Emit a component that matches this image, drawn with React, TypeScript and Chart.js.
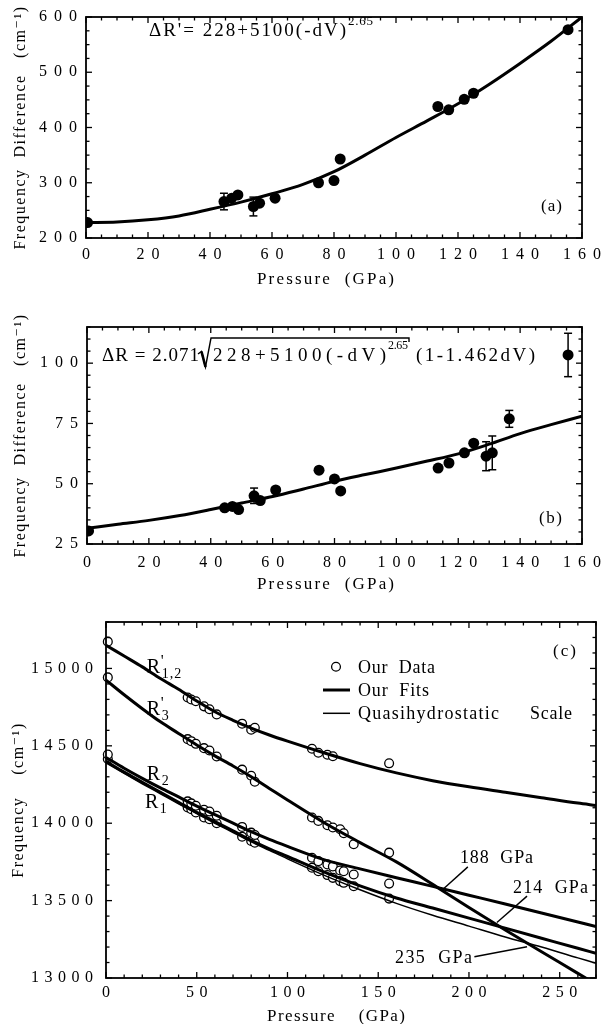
import React, { useEffect, useRef } from "react";
import { Chart, registerables } from "chart.js";

Chart.register(...registerables);

const SERIF = '"Liberation Serif", "DejaVu Serif", serif';

// ---------------- Panel (a) : ΔR' vs pressure ----------------
const pressureA = [0.5, 44.5, 47, 49, 54, 56, 61, 75, 80, 82, 113.5, 117, 122, 125, 155.5];
const deltaRPrimeA = [228, 266, 272, 278, 257, 263, 272, 300, 304, 343, 438, 432, 451, 462, 577];
const errorA = [0, 15, 0, 0, 17, 0, 0, 0, 0, 0, 0, 0, 0, 0, 0];
const fitPressureA = [0, 10, 20, 30, 40, 50, 60, 70, 80, 90, 100, 110, 120, 130, 140, 150, 160];
const fitA = [228, 229, 233, 240, 252, 265, 280, 297, 320, 350, 382, 412, 443, 478, 516, 556, 600];
const xTicksA = [0, 20, 40, 60, 80, 100, 120, 140, 160];
const yTicksA = [200, 300, 400, 500, 600];

// ---------------- Panel (b) : ΔR vs pressure ----------------
const pressureB = [0.5, 44.5, 47, 49, 54, 56, 61, 75, 80, 82, 113.5, 117, 122, 125, 129, 131, 136.5, 155.5];
const deltaRB = [30.4, 40, 40.6, 39.3, 45, 43, 47.4, 55.6, 52, 47, 56.5, 58.6, 62.8, 66.8, 61.4, 62.8, 76.9, 103.4];
const errorB = [0, 0, 0, 0, 3.2, 0, 0, 0, 0, 0, 0, 0, 0, 0, 6, 7, 3.5, 9];
const fitPressureB = [0, 10, 20, 30, 40, 50, 60, 70, 80, 90, 100, 110, 120, 130, 140, 150, 160];
const fitB = [31.5, 33.2, 34.8, 36.8, 39.3, 42, 44.7, 47.8, 51, 53.8, 56.5, 59.4, 62.4, 66.4, 70.8, 74.5, 78];
const xTicksB = [0, 20, 40, 60, 80, 100, 120, 140, 160];
const yTicksB = [25, 50, 75, 100];

// ---------------- Panel (c) : frequencies vs pressure ----------------
const pressureC = [1, 45, 47, 49.5, 54, 57, 61, 75, 80, 82, 113.5, 117, 122, 125, 129, 131, 136.5, 156];
const r12C = [15173, 14812, 14799, 14788, 14755, 14736, 14703, 14643, 14604, 14617, 14481, 14455, 14442, 14433, null, null, null, 14387];
const r3C = [14942, 14543, 14530, 14513, 14485, 14470, 14431, 14346, 14307, 14268, 14037, 14015, 13987, 13972, 13961, 13935, 13864, 13810];
const r2C = [14444, 14141, 14128, 14113, 14087, 14076, 14048, 13976, 13939, 13924, 13777, 13755, 13734, 13721, 13695, 13690, 13669, 13610];
const r1C = [14415, 14102, 14090, 14069, 14037, 14026, 14000, 13913, 13885, 13874, 13712, 13690, 13665, 13647, 13626, 13615, 13593, 13513];
const fitPressureC = [0, 10, 20, 30, 40, 50, 60, 70, 80, 90, 100, 120, 140, 160, 180, 200, 220, 240, 260, 270];
const fitR12 = [15150, 15080, 15010, 14935, 14865, 14790, 14720, 14665, 14615, 14570, 14530, 14455, 14385, 14325, 14275, 14235, 14200, 14165, 14130, 14115];
const fitR3 = [14925, 14830, 14740, 14655, 14580, 14505, 14435, 14370, 14300, 14225, 14150, 14005, 13875, 13750, 13605, 13455, 13310, 13170, 13030, 12960];
const fitR2 = [14425, 14355, 14290, 14228, 14170, 14110, 14055, 14000, 13945, 13895, 13850, 13765, 13705, 13648, 13592, 13535, 13478, 13420, 13362, 13333];
const fitR1 = [14400, 14330, 14265, 14200, 14135, 14070, 14010, 13950, 13890, 13835, 13785, 13685, 13595, 13517, 13452, 13387, 13322, 13257, 13192, 13160];
const quasiHydro = [14390, 14322, 14255, 14190, 14125, 14062, 14000, 13940, 13880, 13825, 13770, 13665, 13570, 13482, 13405, 13335, 13265, 13200, 13130, 13095];
const xTicksC = [0, 50, 100, 150, 200, 250];
const yTicksC = [13000, 13500, 14000, 14500, 15000];
const crossingPressures = [188, 214, 235];
const legendLabels = ["Our  Data", "Our  Fits", "Quasihydrostatic", "Scale"];

// ---------------- helpers ----------------
function spaced(ctx: CanvasRenderingContext2D, text: string, x: number, cy: number, width: number, size: number) {
  ctx.save();
  ctx.font = `${size}px ${SERIF}`;
  ctx.letterSpacing = "0px";
  const w0 = ctx.measureText(text).width;
  const n = Array.from(text).length;
  const s = n > 1 ? (width - w0) / (n - 1) : 0;
  ctx.letterSpacing = `${s}px`;
  ctx.textAlign = "left";
  ctx.textBaseline = "alphabetic";
  ctx.fillStyle = "#000";
  ctx.fillText(text, x, cy + size * 0.33);
  ctx.restore();
}

function line(ctx: CanvasRenderingContext2D, x1: number, y1: number, x2: number, y2: number, w: number) {
  ctx.beginPath();
  ctx.lineWidth = w;
  ctx.moveTo(x1, y1);
  ctx.lineTo(x2, y2);
  ctx.stroke();
}

type Deco = {
  tickSpacing: number;
  titleSpacing: number;
  xMinor: number;
  xMajor: number;
  yMinor: number;
  yMajor: number;
  errX?: number[];
  errY?: number[];
  err?: number[];
  extra: (ctx: CanvasRenderingContext2D, chart: any) => void;
};

function decoPlugin(d: Deco) {
  return {
    id: "deco",
    beforeDraw(chart: any) {
      chart.ctx.letterSpacing = `${d.titleSpacing}px`;
    },
    beforeDatasetsDraw(chart: any) {
      if (!d.err || !d.errX || !d.errY) return;
      const ctx = chart.ctx as CanvasRenderingContext2D;
      const xs = chart.scales.x, ys = chart.scales.y;
      ctx.save();
      ctx.strokeStyle = "#000";
      d.err.forEach((e, i) => {
        if (!e) return;
        const px = xs.getPixelForValue(d.errX![i]);
        const p1 = ys.getPixelForValue(d.errY![i] + e);
        const p2 = ys.getPixelForValue(d.errY![i] - e);
        line(ctx, px, p1, px, p2, 1.5);
        line(ctx, px - 4, p1, px + 4, p1, 1.5);
        line(ctx, px - 4, p2, px + 4, p2, 1.5);
      });
      ctx.restore();
    },
    afterDatasetsDraw(chart: any) {
      chart.ctx.letterSpacing = `${d.tickSpacing}px`;
    },
    afterDraw(chart: any) {
      const ctx = chart.ctx as CanvasRenderingContext2D;
      ctx.letterSpacing = "0px";
      const { left, right, top, bottom } = chart.chartArea;
      const xs = chart.scales.x, ys = chart.scales.y;
      ctx.save();
      ctx.strokeStyle = "#000";
      ctx.lineWidth = 1.8;
      ctx.strokeRect(left, top, right - left, bottom - top);
      const nx = Math.round((xs.max - xs.min) / d.xMinor);
      for (let i = 0; i <= nx; i++) {
        const v = xs.min + i * d.xMinor;
        const major = Math.abs(v / d.xMajor - Math.round(v / d.xMajor)) < 1e-6;
        const len = major ? 6 : 3.5;
        const px = xs.getPixelForValue(v);
        line(ctx, px, bottom, px, bottom - len, 1.3);
        line(ctx, px, top, px, top + len, 1.3);
      }
      const ny = Math.round((ys.max - ys.min) / d.yMinor);
      for (let i = 0; i <= ny; i++) {
        const v = ys.min + i * d.yMinor;
        const major = Math.abs(v / d.yMajor - Math.round(v / d.yMajor)) < 1e-6;
        const len = major ? 6 : 3.5;
        const py = ys.getPixelForValue(v);
        line(ctx, left, py, left + len, py, 1.3);
        line(ctx, right, py, right - len, py, 1.3);
      }
      d.extra(ctx, chart);
      ctx.restore();
    },
  };
}

function pts(xs: number[], ys: (number | null)[]) {
  return xs.map((x, i) => ({ x, y: ys[i] })).filter((p) => p.y !== null);
}

function baseScales(opts: {
  xMin: number; xMax: number; yMin: number; yMax: number;
  xTicks: number[]; yTicks: number[];
  yWidth: number; xHeight: number;
  xPad: number; yPad: number; spacing: number;
  yTitle: string; yTitlePad: number;
}) {
  const tickFont = { family: SERIF, size: 16 };
  return {
    x: {
      type: "linear",
      min: opts.xMin,
      max: opts.xMax,
      afterBuildTicks: (s: any) => { s.ticks = opts.xTicks.map((v) => ({ value: v })); },
      afterFit: (s: any) => { s.height = opts.xHeight; },
      grid: { display: false, drawTicks: false },
      border: { display: false },
      ticks: {
        font: tickFont, color: "#000", padding: opts.xPad, z: 1, maxRotation: 0,
        autoSkip: false, labelOffset: opts.spacing / 2,
        callback: (v: any) => String(v),
      },
    },
    y: {
      type: "linear",
      min: opts.yMin,
      max: opts.yMax,
      afterBuildTicks: (s: any) => { s.ticks = opts.yTicks.map((v) => ({ value: v })); },
      afterFit: (s: any) => { s.width = opts.yWidth; },
      grid: { display: false, drawTicks: false },
      border: { display: false },
      ticks: {
        font: tickFont, color: "#000", padding: opts.yPad, z: 1, autoSkip: false,
        callback: (v: any) => String(v),
      },
      title: {
        display: true, text: opts.yTitle, color: "#000",
        font: { family: SERIF, size: 16 }, padding: { top: opts.yTitlePad, bottom: 0 },
      },
    },
  };
}

function configA() {
  return {
    type: "scatter",
    data: {
      datasets: [
        {
          label: "Fit ΔR'",
          data: pts(fitPressureA, fitA),
          showLine: true, borderColor: "#000", borderWidth: 3, pointRadius: 0,
          cubicInterpolationMode: "monotone", clip: 0,
        },
        {
          label: "Data ΔR'",
          data: pts(pressureA, deltaRPrimeA),
          pointRadius: 5.5, backgroundColor: "#000", borderColor: "#000", borderWidth: 0, clip: 0,
        },
      ],
    },
    options: {
      responsive: false, animation: false, events: [],
      layout: { padding: { top: 17, right: 21, left: 0, bottom: 0 } },
      plugins: { legend: { display: false }, tooltip: { enabled: false } },
      scales: baseScales({
        xMin: 0, xMax: 160, yMin: 200, yMax: 600, xTicks: xTicksA, yTicks: yTicksA,
        yWidth: 86, xHeight: 62, xPad: 7, yPad: 2, spacing: 7,
        yTitle: "Frequency  Difference   (cm⁻¹)", yTitlePad: 11,
      }),
    },
    plugins: [
      decoPlugin({
        tickSpacing: 7, titleSpacing: 1.5, xMinor: 5, xMajor: 20, yMinor: 25, yMajor: 100,
        errX: pressureA, errY: deltaRPrimeA, err: errorA,
        extra: (ctx) => {
          spaced(ctx, "ΔR'= 228+5100(-dV)", 149, 30, 197, 19);
          spaced(ctx, "2.65", 348, 21, 25, 13);
          spaced(ctx, "(a)", 541, 205, 21, 17);
          spaced(ctx, "Pressure  (GPa)", 257, 278, 137, 17);
        },
      }),
    ],
  };
}

function configB() {
  return {
    type: "scatter",
    data: {
      datasets: [
        {
          label: "Fit ΔR",
          data: pts(fitPressureB, fitB),
          showLine: true, borderColor: "#000", borderWidth: 3, pointRadius: 0,
          cubicInterpolationMode: "monotone", clip: 0,
        },
        {
          label: "Data ΔR",
          data: pts(pressureB, deltaRB),
          pointRadius: 5.5, backgroundColor: "#000", borderColor: "#000", borderWidth: 0, clip: 0,
        },
      ],
    },
    options: {
      responsive: false, animation: false, events: [],
      layout: { padding: { top: 27, right: 20, left: 0, bottom: 0 } },
      plugins: { legend: { display: false }, tooltip: { enabled: false } },
      scales: baseScales({
        xMin: 0, xMax: 160, yMin: 25, yMax: 115, xTicks: xTicksB, yTicks: yTicksB,
        yWidth: 87, xHeight: 56, xPad: 9, yPad: 2, spacing: 7,
        yTitle: "Frequency  Difference   (cm⁻¹)", yTitlePad: 11,
      }),
    },
    plugins: [
      decoPlugin({
        tickSpacing: 7, titleSpacing: 1.5, xMinor: 5, xMajor: 20, yMinor: 5, yMajor: 25,
        errX: pressureB, errY: deltaRB, err: errorB,
        extra: (ctx) => {
          spaced(ctx, "ΔR = 2.071", 102, 55, 97, 19);
          ctx.strokeStyle = "#000";
          ctx.lineJoin = "miter";
          ctx.beginPath();
          ctx.lineWidth = 1.4;
          ctx.moveTo(198, 54);
          ctx.lineTo(201.5, 51.5);
          ctx.lineTo(205.5, 67);
          ctx.lineTo(211, 38);
          ctx.lineTo(409, 38);
          ctx.lineTo(409, 42);
          ctx.stroke();
          line(ctx, 201.5, 51.5, 205.5, 67, 2.6);
          spaced(ctx, "228+5100(-dV)", 213, 55, 173, 19);
          spaced(ctx, "2.65", 388, 45, 20, 12);
          spaced(ctx, "(1-1.462dV)", 416, 55, 119, 19);
          spaced(ctx, "(b)", 539, 217, 23, 17);
          spaced(ctx, "Pressure  (GPa)", 257, 283, 137, 17);
        },
      }),
    ],
  };
}

function rLabel(ctx: CanvasRenderingContext2D, x: number, cy: number, prime: boolean, sub: string) {
  ctx.save();
  ctx.fillStyle = "#000";
  ctx.textAlign = "left";
  ctx.textBaseline = "alphabetic";
  ctx.font = `20px ${SERIF}`;
  ctx.letterSpacing = "0px";
  const base = cy + 6.5;
  ctx.fillText("R", x, base);
  const w = ctx.measureText("R").width;
  if (prime) {
    ctx.font = `16px ${SERIF}`;
    ctx.fillText("'", x + w + 0.5, base - 7);
  }
  ctx.font = `14px ${SERIF}`;
  ctx.letterSpacing = "1px";
  ctx.fillText(sub, x + w + 1.5, base + 5);
  ctx.restore();
}

function configC() {
  const circle = {
    pointRadius: 4.4, backgroundColor: "#fff", borderColor: "#000", borderWidth: 1.3, clip: false,
  };
  const fitStyle = (w: number) => ({
    showLine: true, borderColor: "#000", borderWidth: w, pointRadius: 0,
    cubicInterpolationMode: "monotone", clip: 0,
  });
  return {
    type: "scatter",
    data: {
      datasets: [
        { label: "Fit R'1,2", data: pts(fitPressureC, fitR12), ...fitStyle(3) },
        { label: "Fit R'3", data: pts(fitPressureC, fitR3), ...fitStyle(3) },
        { label: "Fit R2", data: pts(fitPressureC, fitR2), ...fitStyle(3) },
        { label: "Fit R1", data: pts(fitPressureC, fitR1), ...fitStyle(3) },
        { label: "Quasihydrostatic Scale", data: pts(fitPressureC, quasiHydro), ...fitStyle(1.5) },
        { label: "R'1,2", data: pts(pressureC, r12C), ...circle },
        { label: "R'3", data: pts(pressureC, r3C), ...circle },
        { label: "R2", data: pts(pressureC, r2C), ...circle },
        { label: "R1", data: pts(pressureC, r1C), ...circle },
      ],
    },
    options: {
      responsive: false, animation: false, events: [],
      layout: { padding: { top: 22, right: 7, left: 0, bottom: 0 } },
      plugins: { legend: { display: false }, tooltip: { enabled: false } },
      scales: baseScales({
        xMin: 0, xMax: 270, yMin: 13000, yMax: 15300, xTicks: xTicksC, yTicks: yTicksC,
        yWidth: 106, xHeight: 46, xPad: 5, yPad: 7.5, spacing: 5.5,
        yTitle: "Frequency    (cm⁻¹)", yTitlePad: 9,
      }),
    },
    plugins: [
      decoPlugin({
        tickSpacing: 5.5, titleSpacing: 1.5, xMinor: 10, xMajor: 50, yMinor: 100, yMajor: 500,
        extra: (ctx, chart) => {
          const xs = chart.scales.x, ys = chart.scales.y;
          const X = (v: number) => xs.getPixelForValue(v);
          const Y = (v: number) => ys.getPixelForValue(v);
          ctx.strokeStyle = "#000";
          ctx.fillStyle = "#000";
          // curve labels
          rLabel(ctx, X(22.5), Y(15011), true, "1,2");
          rLabel(ctx, X(22.5), Y(14742), true, "3");
          rLabel(ctx, X(22.5), Y(14322), false, "2");
          rLabel(ctx, X(21.5), Y(14139), false, "1");
          // legend
          ctx.save();
          ctx.beginPath();
          ctx.lineWidth = 1.3;
          ctx.fillStyle = "#fff";
          ctx.arc(336, 66.7, 4.4, 0, Math.PI * 2);
          ctx.fill();
          ctx.stroke();
          ctx.restore();
          line(ctx, 323, 90, 350, 90, 3);
          line(ctx, 323, 113.3, 350, 113.3, 1.5);
          spaced(ctx, legendLabels[0], 358, 66.7, 77, 18);
          spaced(ctx, legendLabels[1], 358, 90, 71, 18);
          spaced(ctx, legendLabels[2], 358, 113.3, 141, 18);
          spaced(ctx, legendLabels[3], 530, 113.3, 42, 18);
          spaced(ctx, "(c)", 553, 50, 23, 17);
          // crossing annotations
          const labelPos = [
            { tx: 460, ty: 257, w: 73, from: [199.4, 13718], to: [185.7, 13574] },
            { tx: 513, ty: 287, w: 75, from: [232, 13529], to: [215.4, 13359] },
            { tx: 395, ty: 357, w: 77, from: [203, 13137], to: [232, 13202] },
          ];
          crossingPressures.forEach((p, i) => {
            const L = labelPos[i];
            spaced(ctx, `${p}  GPa`, L.tx, L.ty, L.w, 18);
            line(ctx, X(L.from[0]), Y(L.from[1]), X(L.to[0]), Y(L.to[1]), 1.4);
          });
          spaced(ctx, "Pressure    (GPa)", 267, 415, 138, 17);
        },
      }),
    ],
  };
}

function ChartCanvas({ top, height, build }: { top: number; height: number; build: () => any }) {
  const ref = useRef<HTMLCanvasElement | null>(null);
  useEffect(() => {
    if (!ref.current) return;
    const chart = new Chart(ref.current, build());
    return () => chart.destroy();
  }, []);
  return (
    <canvas
      ref={ref}
      width={603}
      height={height}
      style={{ position: "absolute", left: 0, top, width: 603, height, display: "block" }}
    />
  );
}

export default function App() {
  return (
    <div style={{ position: "absolute", left: 0, top: 0, width: 603, height: 1024, background: "#fff" }}>
      <ChartCanvas top={0} height={300} build={configA} />
      <ChartCanvas top={300} height={300} build={configB} />
      <ChartCanvas top={600} height={424} build={configC} />
    </div>
  );
}
